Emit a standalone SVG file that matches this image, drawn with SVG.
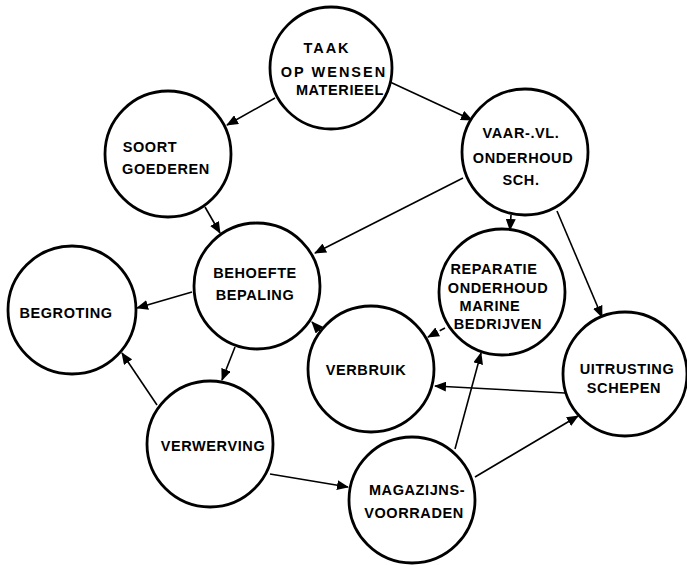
<svg xmlns="http://www.w3.org/2000/svg" width="687" height="565" viewBox="0 0 687 565">
<style>
.node circle{fill:#fff;stroke:#000;stroke-width:2.8}
.node text{font-family:"Liberation Sans",Arial,sans-serif;font-weight:bold;font-size:14.5px;letter-spacing:0.6px;fill:#000;text-anchor:middle}
.edges line{stroke:#000;stroke-width:1.6;marker-end:url(#ah)}
</style>
<defs>
<marker id="ah" markerUnits="userSpaceOnUse" markerWidth="12" markerHeight="10" viewBox="0 0 12 10" refX="11" refY="5" orient="auto">
<path d="M0,0 L12,5 L0,10 Z" fill="#000"/>
</marker>
</defs>
<rect width="687" height="565" fill="#fff"/>
<g class="edges">
<line x1="275" y1="98" x2="227" y2="125"/>
<line x1="390" y1="82" x2="472" y2="120"/>
<line x1="205" y1="207" x2="220" y2="233"/>
<line x1="463" y1="178" x2="315" y2="253"/>
<line x1="511" y1="215" x2="510" y2="230"/>
<line x1="557" y1="211" x2="602" y2="317"/>
<line x1="192" y1="292" x2="137" y2="308"/>
<line x1="235" y1="347" x2="222" y2="380"/>
<line x1="321" y1="332" x2="312" y2="322"/>
<line x1="445" y1="328" x2="428" y2="337" stroke-dasharray="6 3"/>
<line x1="565" y1="393" x2="435" y2="386"/>
<line x1="455" y1="449" x2="481" y2="353"/>
<line x1="475" y1="477" x2="578" y2="416"/>
<line x1="270" y1="474" x2="348" y2="487"/>
<line x1="157" y1="405" x2="122" y2="353"/>
</g>
<g id="taak" class="node">
<circle cx="331" cy="68" r="61"/>
<text x="327" y="53" style="letter-spacing:2px">TAAK</text>
<text x="334" y="77" style="letter-spacing:2px">OP WENSEN</text>
<text x="340" y="95">MATERIEEL</text>
</g>
<g id="soort" class="node">
<circle cx="168" cy="154" r="63"/>
<text x="150" y="152">SOORT</text>
<text x="166" y="174">GOEDEREN</text>
</g>
<g id="vaar" class="node">
<circle cx="525" cy="152" r="63"/>
<text x="521" y="138">VAAR-.VL.</text>
<text x="523" y="163">ONDERHOUD</text>
<text x="521" y="185">SCH.</text>
</g>
<g id="behoefte" class="node">
<circle cx="257" cy="286" r="63"/>
<text x="255" y="278">BEHOEFTE</text>
<text x="255" y="300">BEPALING</text>
</g>
<g id="begroting" class="node">
<circle cx="72" cy="310" r="64"/>
<text x="66" y="318">BEGROTING</text>
</g>
<g id="reparatie" class="node">
<circle cx="502" cy="292" r="63"/>
<text x="494" y="274">REPARATIE</text>
<text x="498" y="293">ONDERHOUD</text>
<text x="490" y="311">MARINE</text>
<text x="498" y="329">BEDRIJVEN</text>
</g>
<g id="verbruik" class="node">
<circle cx="371" cy="369" r="63"/>
<text x="366" y="375">VERBRUIK</text>
</g>
<g id="uitrusting" class="node">
<circle cx="625" cy="374" r="62"/>
<text x="627" y="374">UITRUSTING</text>
<text x="624" y="393">SCHEPEN</text>
</g>
<g id="verwerving" class="node">
<circle cx="210" cy="444" r="63"/>
<text x="213" y="451">VERWERVING</text>
</g>
<g id="magazijns" class="node">
<circle cx="412" cy="500" r="63"/>
<text x="417" y="495">MAGAZIJNS-</text>
<text x="414" y="518">VOORRADEN</text>
</g>
</svg>
